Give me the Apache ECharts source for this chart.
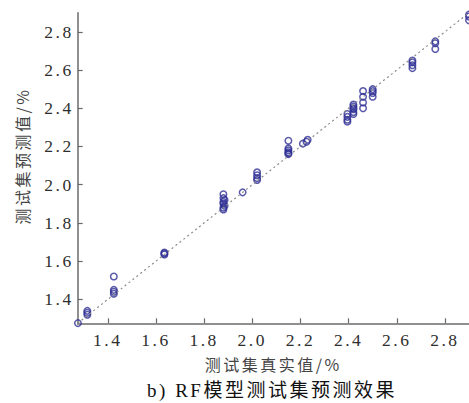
<!DOCTYPE html>
<html>
<head>
<meta charset="utf-8">
<script src="https://cdn.jsdelivr.net/npm/echarts@6/dist/echarts.min.js"></script>
<style>
  html, body { margin: 0; padding: 0; background: #fff; }
  #chart { width: 469px; height: 403px; }
  #chart svg text { letter-spacing: 2.5px; }
</style>
</head>
<body>
<div id="chart"></div>
<script>
// Actual (test set) values
const actualValues = [
  1.276,
  1.315, 1.315, 1.315,
  1.425, 1.425, 1.425, 1.425,
  1.635, 1.635, 1.635,
  1.88, 1.88, 1.885, 1.88, 1.88, 1.885, 1.88, 1.88,
  1.96,
  2.02, 2.02, 2.02, 2.02,
  2.15, 2.15, 2.15, 2.15, 2.15, 2.15,
  2.21, 2.225, 2.23,
  2.395, 2.395, 2.395, 2.395,
  2.42, 2.42, 2.42, 2.42, 2.42, 2.42,
  2.46, 2.46, 2.46, 2.46,
  2.50, 2.50, 2.50, 2.50,
  2.665, 2.665, 2.665, 2.665,
  2.76, 2.76, 2.76,
  2.9, 2.9, 2.9
];
// Predicted values (RF model)
const predictedValues = [
  1.276,
  1.34, 1.33, 1.32,
  1.52, 1.45, 1.44, 1.43,
  1.645, 1.64, 1.635,
  1.95, 1.93, 1.92, 1.91, 1.90, 1.89, 1.88, 1.87,
  1.96,
  2.065, 2.05, 2.035, 2.025,
  2.23, 2.19, 2.18, 2.17, 2.165, 2.16,
  2.215, 2.225, 2.235,
  2.37, 2.355, 2.34, 2.33,
  2.42, 2.41, 2.40, 2.395, 2.38, 2.37,
  2.49, 2.46, 2.43, 2.40,
  2.50, 2.49, 2.48, 2.46,
  2.65, 2.64, 2.625, 2.61,
  2.75, 2.74, 2.71,
  2.89, 2.88, 2.86
];
const tickValues = [1.4, 1.6, 1.8, 2.0, 2.2, 2.4, 2.6, 2.8];
const axisRange = [1.275, 2.9];
const referenceLine = [1.275, 2.9];

const xName = '测试集真实值/%';
const yName = '测试集预测值/%';
const caption = 'b) RF模型测试集预测效果';

const points = actualValues.map((x, i) => [x, predictedValues[i]]);
const linePoints = referenceLine.map(v => [v, v]);

const serif = '"Liberation Serif", "Noto Sans CJK SC", serif';
const axisCommon = {
  type: 'value',
  min: axisRange[0],
  max: axisRange[1],
  splitLine: { show: false },
  axisLine: { show: true, lineStyle: { color: '#6b6b6b', width: 1.5 } },
  axisTick: { show: true, inside: true, length: 5, customValues: tickValues,
              lineStyle: { color: '#6b6b6b', width: 1.2 } },
  axisLabel: { customValues: tickValues, formatter: v => v.toFixed(1),
               fontFamily: serif, fontSize: 17.5, color: '#2e2e2e' }
};

const chart = echarts.init(document.getElementById('chart'), null, { renderer: 'svg' });
chart.setOption({
  animation: false,
  backgroundColor: '#ffffff',
  grid: { left: 77.7, right: 0, top: 12.7, bottom: 79.7, containLabel: false },
  xAxis: Object.assign({}, axisCommon, {
    axisLabel: Object.assign({}, axisCommon.axisLabel, { margin: 8 }),
    name: xName,
    nameLocation: 'middle',
    nameGap: 33,
    nameTextStyle: { fontFamily: '"Noto Sans CJK SC", serif', fontSize: 16, color: '#444' }
  }),
  yAxis: Object.assign({}, axisCommon, {
    axisLabel: Object.assign({}, axisCommon.axisLabel, { margin: 4 })
  }),
  graphic: [
    {
      type: 'text', x: 22, y: 156, rotation: Math.PI / 2,
      style: { text: yName, fill: '#444', align: 'center', verticalAlign: 'middle',
               font: '16px "Noto Sans CJK SC", serif' }
    },
    {
      type: 'text', x: 272, y: 390,
      style: { text: caption, fill: '#111', align: 'center', verticalAlign: 'middle',
               font: '19px "Liberation Serif", "Noto Sans CJK SC", serif' }
    }
  ],
  series: [
    {
      type: 'line',
      data: linePoints,
      symbol: 'none',
      silent: true,
      lineStyle: { color: '#8a8a8a', width: 1.2, type: [2, 3] }
    },
    {
      type: 'scatter',
      data: points,
      symbol: 'circle',
      symbolSize: 6.5,
      clip: false,
      itemStyle: { color: 'rgba(0,0,0,0)', borderColor: '#2f2f95', borderWidth: 1.5 }
    }
  ]
});
</script>
</body>
</html>
